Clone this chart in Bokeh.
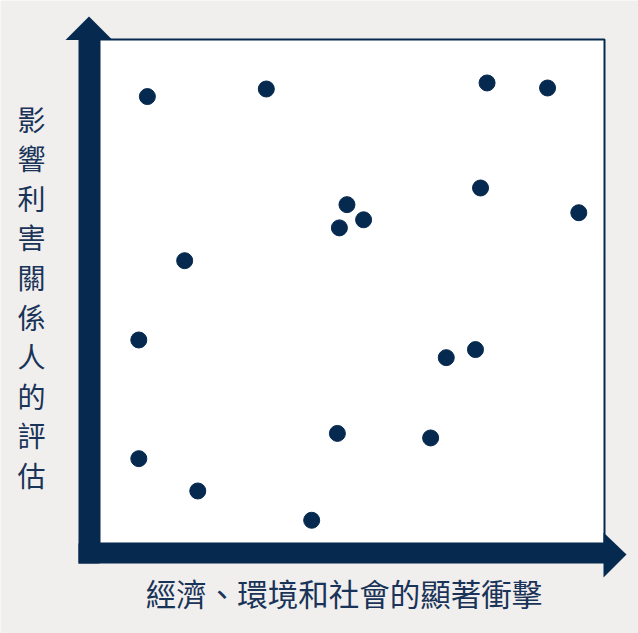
from bokeh.plotting import figure
from bokeh.models import Range1d, ColumnDataSource
from bokeh.core.properties import value
from bokeh.embed import file_html
from bokeh.resources import INLINE

# ---- data (score 0-10 on each axis) ----
impact = [0.95, 3.31, 7.69, 8.89, 7.56, 9.51, 4.91, 5.24, 4.76, 1.69,
          0.78, 6.88, 7.46, 4.72, 6.57, 0.78, 1.95, 4.21]
stakeholder = [8.85, 9.00, 9.12, 9.02, 7.04, 6.55, 6.71, 6.41, 6.25, 5.60,
               4.03, 3.68, 3.84, 2.18, 2.09, 1.68, 1.04, 0.46]
x_label = "經濟、環境和社會的顯著衝擊"
y_label = "影響利害關係人的評估"

NAVY = "#06294f"
TEXT = "#1a3358"
BG = "#f0efed"

W, H = 638, 633
X0, Y0 = 99, 543        # pixel of data origin
SX, SY = 50.4, 50.5     # pixels per data unit

def px(x):
    return (x - X0) / SX

def py(y):
    return (Y0 - y) / SY

p = figure(width=W, height=H, output_backend="svg", toolbar_location=None,
           x_range=Range1d(px(0), px(W)), y_range=Range1d(py(H), py(0)),
           x_axis_location=None, y_axis_location=None, min_border=0)
p.grid.visible = False
p.outline_line_color = None
p.background_fill_color = BG
p.border_fill_color = BG

# white plot box
p.quad(left=0, right=px(604), bottom=0, top=py(39), fill_color="white",
       line_color=NAVY, line_width=2)

# thick axis arrows
p.quad(left=px(78), right=px(99), bottom=py(563), top=py(39),
       fill_color=NAVY, line_color=None)
p.patch([px(65), px(112), px(88.5)], [py(39.5), py(39.5), py(16)],
        fill_color=NAVY, line_color=None)
p.quad(left=px(78), right=px(603.5), bottom=py(563), top=py(543),
       fill_color=NAVY, line_color=None)
p.patch([px(603), px(603), px(626)], [py(532), py(577), py(554)],
        fill_color=NAVY, line_color=None)

# points
src = ColumnDataSource(dict(x=impact, y=stakeholder))
p.scatter("x", "y", source=src, size=16, fill_color=NAVY, line_color=NAVY)

# y-axis title (stacked characters)
chars = list(y_label)
ys = [py(118 + i * 39.6) for i in range(len(chars))]
p.text(x=[px(31)] * len(chars), y=ys, text=chars,
       text_font=value("Noto Sans CJK TC"), text_font_size="28px",
       text_color=TEXT, text_align="center", text_baseline="middle")

# x-axis title
p.text(x=[px(343.5)], y=[py(592)], text=[x_label],
       text_font=value("Noto Sans CJK TC"), text_font_size="30.5px",
       text_color=TEXT, text_align="center", text_baseline="middle")

open("out.html", "w").write(file_html(p, INLINE))
